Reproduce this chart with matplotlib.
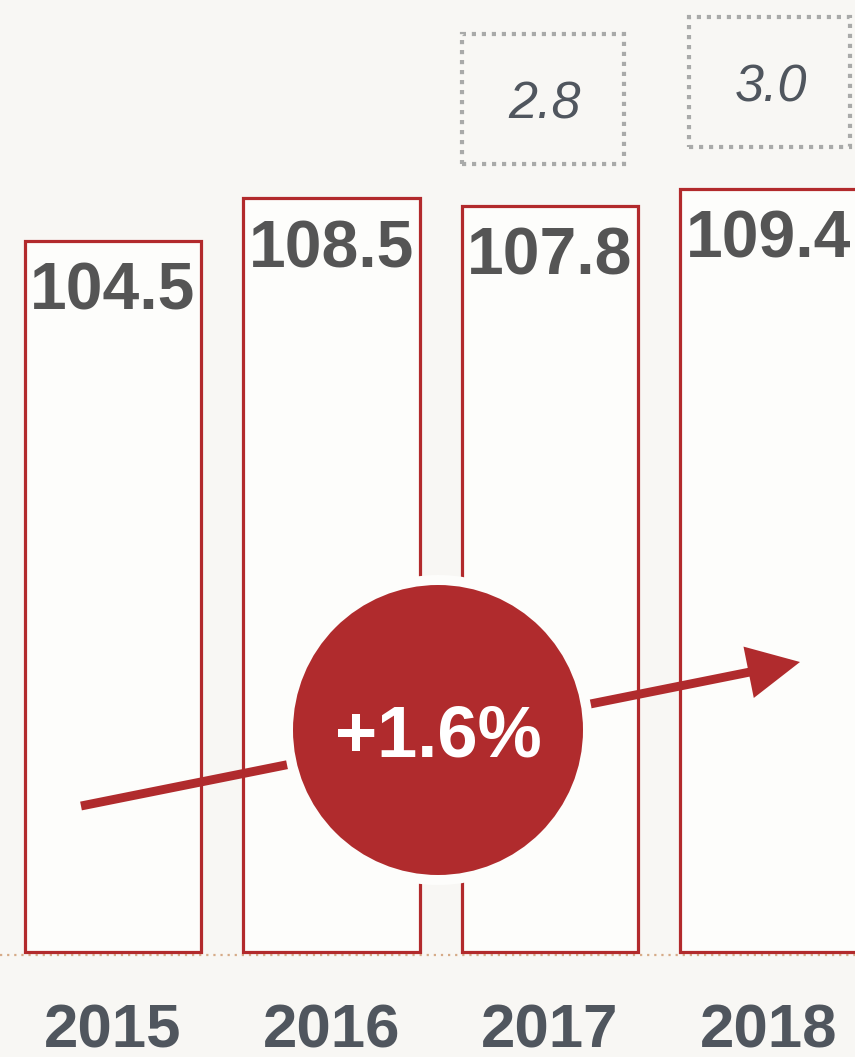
import numpy as np
import matplotlib.pyplot as plt
from matplotlib.patches import Rectangle

# data
years = ['2015', '2016', '2017', '2018']
values = [104.5, 108.5, 107.8, 109.4]
box_years = ['2017', '2018']
box_values = ['2.8', '3.0']
growth_label = '+1.6%'

# colours
bg = '#f8f7f4'
red = '#b02b2d'
grey_txt = '#50565e'
val_txt = '#555555'

plt.rcParams['font.family'] = ['Liberation Sans', 'DejaVu Sans']

fig = plt.figure(figsize=(8.55, 10.57), dpi=100, facecolor=bg)
ax = fig.add_axes([0, 0, 1, 1])
ax.set_facecolor(bg)

# axis scale: bars are cut off at a baseline value, 10.6 px per unit
base = 37.4
px = 1 / 10.6          # one pixel in y data units
pxx = 1 / 218.5        # one pixel in x data units
ymin = base - 105 * px
ax.set_ylim(ymin, ymin + 1057 * px)
ax.set_xlim(-113 * pxx, -113 * pxx + 855 * pxx)
ax.axis('off')

x = np.arange(len(years))
vals = np.array(values)

ax.bar(x, vals - base, bottom=base, width=0.81, facecolor='#fdfdfb',
       edgecolor='#b22a2c', linewidth=2.3, zorder=2)

# dotted baseline
ax.axhline(base - 3 * px, color='#d6ab88', lw=1.6, ls=(0, (1, 2.2)), zorder=1)

# value labels inside the bars
for xi, v in zip(x, vals):
    ax.text(xi, v - 69 * px, f'{v:.1f}', ha='center', va='baseline',
            fontsize=47.5, fontweight='bold', color=val_txt, zorder=4)

# year labels
for xi, yr in zip(x, years):
    ax.text(xi, base - 96 * px, yr, ha='center', va='baseline',
            fontsize=44.5, fontweight='bold', color=grey_txt, zorder=4)

# dotted boxes above the last two bars
box_dx = {'2017': -0.403, '2018': -0.366}
for yr, lab in zip(box_years, box_values):
    i = years.index(yr)
    y0 = vals[i] + 41.5 * px
    h = 130 * px
    w = 0.741
    x0 = i + box_dx[yr]
    ax.add_patch(Rectangle((x0, y0), w, h, fill=False, edgecolor='#a9aaa9',
                           lw=3.0, ls=(0, (1, 1.4)), zorder=3))
    ax.text(x0 + w / 2 + 2 * pxx, y0 + h / 2 - 19 * px, lab, ha='center',
            va='baseline', fontsize=37.5, fontstyle='italic', color=grey_txt, zorder=4)

# trend arrow
tail = (-32 * pxx, ymin + 251 * px)
tip = (687 * pxx, ymin + 395 * px)
ax.annotate('', xy=tip, xytext=tail,
            arrowprops=dict(arrowstyle='-|>,head_length=0.38,head_width=0.19',
                            mutation_scale=72, lw=6.4, color=red,
                            shrinkA=0, shrinkB=0, joinstyle='miter',
                            capstyle='butt'),
            zorder=5)

# growth circle
cx = 325 * pxx
cy = ymin + 327 * px
ax.scatter([cx], [cy], s=(310 * 0.72) ** 2, color='#fdfdfb', edgecolors='none', zorder=6)
ax.scatter([cx], [cy], s=(290 * 0.72) ** 2, color=red, edgecolors='none', zorder=7)
ax.text(cx, cy - 26.5 * px, growth_label, ha='center', va='baseline',
        fontsize=52, fontweight='bold', color='white', zorder=8)

fig.savefig('out.png', dpi=100, facecolor=bg)
